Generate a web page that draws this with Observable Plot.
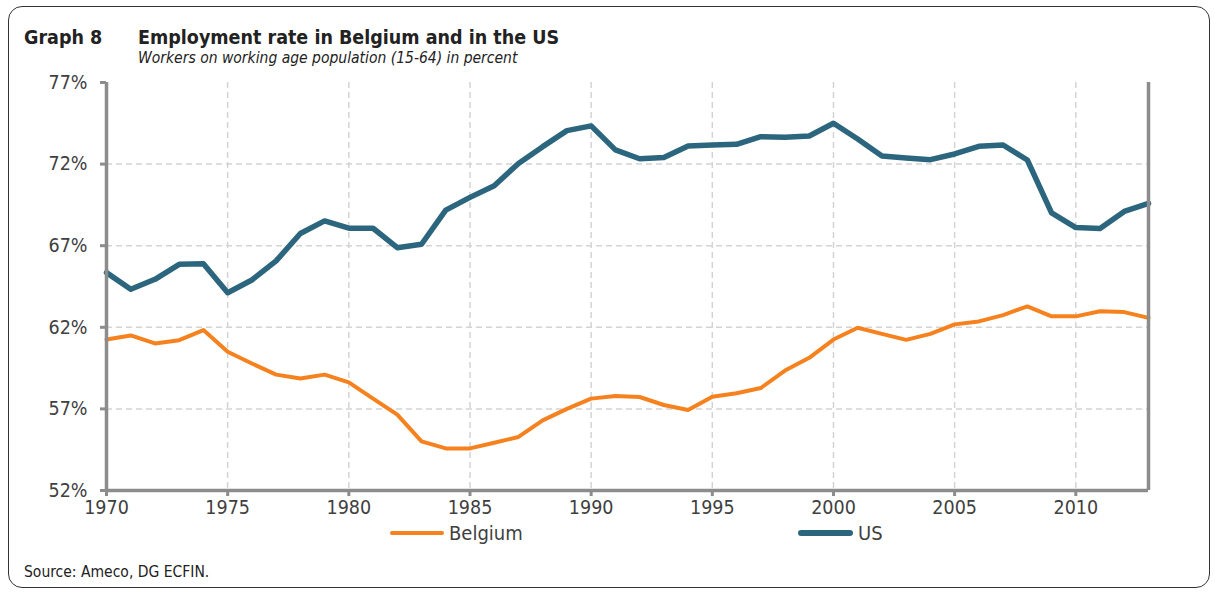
<!DOCTYPE html>
<html>
<head>
<meta charset="utf-8">
<script src="https://cdn.jsdelivr.net/npm/d3@7"></script>
<script src="https://cdn.jsdelivr.net/npm/@observablehq/plot@0.6"></script>
<style>
  html, body { margin: 0; padding: 0; background: #fff; }
  #wrap { position: relative; width: 1215px; height: 593px; font-family: "DejaVu Sans Condensed", "DejaVu Sans", sans-serif; color: #222; overflow: hidden; }
  #frame { position: absolute; left: 8px; top: 6px; width: 1202px; height: 582px; border: 1.5px solid #333; border-radius: 14px; box-sizing: border-box; pointer-events: none; }
  .t { position: absolute; white-space: nowrap; }
  #gnum { left: 24px; top: 26px; font-size: 19.5px; font-weight: bold; }
  #title { left: 138px; top: 26px; font-size: 19.5px; font-weight: bold; }
  #subtitle { left: 138px; top: 49px; font-size: 15.5px; font-style: italic; }
  #source { left: 24px; top: 563px; font-size: 15.5px; }
  .leg { position: absolute; top: 520px; height: 26px; display: flex; align-items: center; font-size: 20px; color: #404040; }
  .sw { display: inline-block; height: 5px; border-radius: 3px; margin-right: 5px; }
  #chart { position: absolute; left: 0; top: 0; }
</style>
</head>
<body>
<div id="wrap">
  <div id="chart"></div>
  <div class="t" id="gnum">Graph 8</div>
  <div class="t" id="title">Employment rate in Belgium and in the US</div>
  <div class="t" id="subtitle">Workers on working age population (15-64) in percent</div>
  <div class="leg" id="leg1" style="left:390px"><span class="sw" style="width:54px;background:#F5821F;height:4.5px"></span>Belgium</div>
  <div class="leg" id="leg2" style="left:798px"><span class="sw" style="width:55px;background:#2C667E;height:6px"></span>US</div>
  <div class="t" id="source">Source: Ameco, DG ECFIN.</div>
  <div id="frame"></div>
</div>
<script>
const years = d3.range(1970, 2014);
const belgium = [61.25, 61.5, 61.01, 61.21, 61.83, 60.5, 59.78, 59.1, 58.86, 59.1,
                 58.63, 57.63, 56.65, 55.01, 54.58, 54.58, 54.93, 55.28, 56.3, 57.0,
                 57.63, 57.79, 57.73, 57.24, 56.93, 57.75, 57.96, 58.28, 59.35, 60.13,
                 61.25, 61.97, 61.6, 61.23, 61.6, 62.18, 62.36, 62.75, 63.28, 62.67,
                 62.67, 62.98, 62.93, 62.58];
const us = [65.35, 64.33, 64.94, 65.86, 65.9, 64.12, 64.9, 66.07, 67.75, 68.52,
            68.07, 68.07, 66.88, 67.09, 69.18, 69.96, 70.67, 72.04, 73.07, 74.05,
            74.34, 72.87, 72.33, 72.41, 73.11, 73.17, 73.21, 73.68, 73.64, 73.72,
            74.5, 73.54, 72.5, 72.37, 72.27, 72.62, 73.09, 73.17, 72.25, 69.01,
            68.11, 68.05, 69.1, 69.59];
const seriesNames = ["Belgium", "US"];
const seriesColors = ["#F5821F", "#2C667E"];
const xTicks = [1970, 1975, 1980, 1985, 1990, 1995, 2000, 2005, 2010];
const yTicks = [52, 57, 62, 67, 72, 77];
const xGrid = [1975, 1980, 1985, 1990, 1995, 2000, 2005, 2010];
const yGrid = [57, 62, 67, 72];

const rows = [];
years.forEach((y, i) => {
  rows.push({year: y, value: belgium[i], series: "Belgium"});
  rows.push({year: y, value: us[i], series: "US"});
});

const axisGray = "#8c8c8c";
const gridGray = "#d4d4d4";

const chart = Plot.plot({
  width: 1215,
  height: 593,
  marginLeft: 106,
  marginRight: 67,
  marginTop: 82,
  marginBottom: 103,
  style: {fontFamily: '"DejaVu Sans Condensed", "DejaVu Sans", sans-serif', color: "#404040", background: "transparent"},
  x: {domain: [1970, 2013], label: null},
  y: {domain: [52, 77], label: null},
  color: {domain: seriesNames, range: seriesColors},
  marks: [
    Plot.ruleX(xGrid, {stroke: gridGray, strokeWidth: 1.5, strokeDasharray: "6,4"}),
    Plot.ruleY(yGrid, {stroke: gridGray, strokeWidth: 1.5, strokeDasharray: "6,4"}),
    Plot.line(rows.filter(d => d.series === "Belgium"), {x: "year", y: "value", stroke: seriesColors[0], strokeWidth: 4, strokeLinejoin: "round"}),
    Plot.line(rows.filter(d => d.series === "US"), {x: "year", y: "value", stroke: seriesColors[1], strokeWidth: 5.5, strokeLinejoin: "round"}),
    Plot.ruleX([1970, 2013], {stroke: axisGray, strokeWidth: 3.5}),
    Plot.ruleY([52], {stroke: axisGray, strokeWidth: 3.5}),
    Plot.axisX({ticks: xTicks, tickFormat: d => String(d), tickSize: 6, tickPadding: 4, fontSize: 19.5, stroke: axisGray, strokeWidth: 3, label: null}),
    Plot.axisY({ticks: yTicks, tickFormat: d => d + "%", tickSize: 6, tickPadding: 13, fontSize: 19.5, stroke: axisGray, strokeWidth: 3, label: null})
  ]
});
document.getElementById("chart").appendChild(chart);
</script>
</body>
</html>
